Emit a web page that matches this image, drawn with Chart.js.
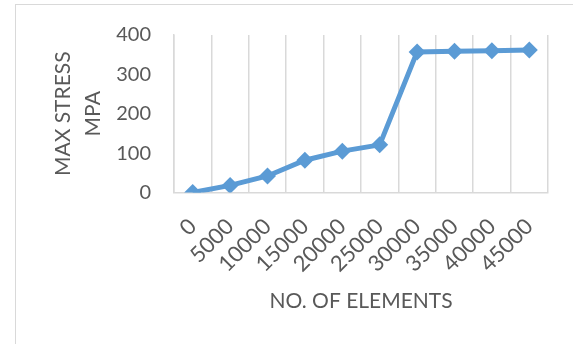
<!DOCTYPE html>
<html>
<head>
<meta charset="utf-8">
<script src="https://cdn.jsdelivr.net/npm/chart.js@4/dist/chart.umd.min.js"></script>
<style>
  html, body { margin: 0; padding: 0; background: #fff; overflow: hidden; }
  #frame { position: absolute; left: 15px; top: 4px; width: 620px; height: 400px; border: 1px solid #d9d9d9; box-sizing: border-box; }
  #chart { position: absolute; left: 0; top: 0; }
</style>
</head>
<body>
<div id="frame"></div>
<canvas id="chart" width="573" height="344"></canvas>
<script>
// Number of elements in the mesh
const elementCounts = ['0', '5000', '10000', '15000', '20000', '25000', '30000', '35000', '40000', '45000'];
// Maximum stress (MPa) reached for each mesh
const maxStress = [0, 18, 42, 82, 105, 121, 357, 359, 360, 362];
const yTicks = [0, 100, 200, 300, 400];
const xTitle = 'NO. OF ELEMENTS';
const yTitle = ['MAX STRESS', 'MPA'];

const textColor = '#595959';
const lineColor = '#d9d9d9';
const seriesColor = '#5b9bd5';

new Chart(document.getElementById('chart'), {
  type: 'line',
  data: {
    labels: elementCounts,
    datasets: [{
      data: maxStress,
      borderColor: seriesColor,
      backgroundColor: seriesColor,
      borderWidth: 5,
      pointStyle: 'rectRot',
      pointRadius: 8.5,
      pointBorderWidth: 0,
      pointBackgroundColor: seriesColor,
      tension: 0
    }]
  },
  options: {
    responsive: false,
    animation: false,
    events: [],
    layout: { padding: { top: 33, right: 25, bottom: 0, left: 0 } },
    plugins: { legend: { display: false }, tooltip: { enabled: false } },
    scales: {
      x: {
        offset: true,
        grid: { offset: true, color: lineColor, lineWidth: 1.5, drawTicks: false },
        border: { display: true, color: lineColor, width: 1.5 },
        ticks: {
          color: textColor,
          font: { family: 'Lato', size: 22 },
          minRotation: 45,
          maxRotation: 45,
          padding: 21,
          autoSkip: false
        },
        title: {
          display: true,
          text: xTitle,
          color: textColor,
          font: { family: 'Lato', size: 21 },
          padding: { top: 0, bottom: 30 }
        },
        afterFit: function (scale) { scale.height = 344 - 192.5; }
      },
      y: {
        min: 0,
        max: 400,
        afterBuildTicks: function (scale) { scale.ticks = yTicks.map(v => ({ value: v })); },
        grid: { drawOnChartArea: false, drawTicks: false },
        border: { display: true, color: lineColor, width: 1.5 },
        ticks: {
          color: textColor,
          font: { family: 'Lato', size: 20 },
          padding: 23
        },
        title: {
          display: true,
          text: yTitle,
          color: textColor,
          font: { family: 'Lato', size: 21, lineHeight: 30 / 21 },
          padding: { top: 48, bottom: 0 }
        },
        afterFit: function (scale) { scale.width = 174; }
      }
    }
  }
});
</script>
</body>
</html>
